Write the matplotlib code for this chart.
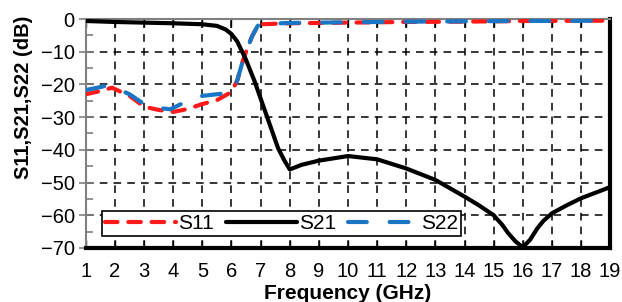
import matplotlib.pyplot as plt
from matplotlib.ticker import MultipleLocator

plt.rcParams['font.family'] = ['Liberation Sans', 'DejaVu Sans']

# S21 (black solid)
f21 = [1, 2, 3, 4, 5, 5.5, 5.8, 6, 6.2, 6.5, 6.8, 7, 7.3, 7.6, 7.8, 8, 8.4,
       9, 10, 11, 12, 13, 14, 14.5, 15, 15.3, 15.5, 15.75, 16, 16.25, 16.5,
       16.7, 17, 17.5, 18, 19]
s21 = [-0.6, -0.9, -1.1, -1.3, -1.6, -2.1, -3.2, -4.6, -6.9, -12.5, -19.2,
       -24.3, -31.9, -39.5, -43, -46, -44.6, -43.3, -41.9, -42.9, -45.7,
       -49.2, -54.3, -57, -60, -63, -65.5, -68, -69.8, -67.5, -64, -61.8,
       -59.4, -57, -54.8, -51.4]

# S11 (red dashed)
f11 = [1, 1.5, 1.9, 2.5, 3, 3.5, 4, 4.5, 5, 5.5, 6, 6.2, 6.4, 6.5, 6.7, 6.9,
       7, 8, 10, 12, 14, 16, 19]
s11 = [-23, -22, -21, -23.5, -26.8, -27.8, -28.4, -27.5, -26, -24.8, -22.3,
       -18.7, -12.5, -10, -5.4, -2.1, -1.6, -1.3, -1.1, -0.9, -0.8, -0.6, -0.5]

# S22 (blue long dash)
f22 = [1, 1.4, 1.8, 2.5, 3, 3.5, 3.9, 4.5, 5, 5.5, 6, 6.2, 6.4, 6.5, 6.7, 6.9,
       7, 8, 10, 12, 14, 16, 19]
s22 = [-21.7, -21, -20.2, -23, -26, -27.2, -27.6, -25, -23.5, -23, -22.5,
       -18.7, -12.5, -10, -5.4, -2.1, -1.5, -1.2, -1.0, -0.8, -0.7, -0.6, -0.5]

fig = plt.figure(figsize=(6.22, 3.02), dpi=100)
ax = fig.add_axes([0.138, 0.179, 0.843, 0.758])

ax.plot(f11, s11, color='#ff1a1a', lw=3, dashes=(3, 2.6),
        dash_capstyle='round', label='S11', zorder=3)
ax.plot(f21, s21, color='black', lw=3, solid_capstyle='round',
        solid_joinstyle='round', label='S21', zorder=4)
ax.plot(f22, s22, color='#1a75c4', lw=3, dashes=(4.5, 5.5),
        dash_capstyle='round', label='S22', zorder=3)

ax.set_xlim(1, 19)
ax.set_ylim(-70, 0)
ax.set_xticks(range(1, 20))
ax.set_yticks(range(-70, 1, 10))
ax.yaxis.set_minor_locator(MultipleLocator(5))

ax.grid(True, which='major', color='black', linestyle=(0, (5, 4)), lw=1.1)

ax.tick_params(axis='x', which='major', direction='in', length=6, width=1,
               color='black', labelsize=14.5, pad=10, top=True)
ax.tick_params(axis='y', which='major', direction='inout', length=10,
               width=1.2, color='#808080', labelsize=14.5, pad=3)
ax.tick_params(axis='y', which='minor', direction='in', length=5,
               width=1.2, color='#808080')

for s in ['left', 'top']:
    ax.spines[s].set_color('#808080')
    ax.spines[s].set_linewidth(1.5)
for s in ['bottom', 'right']:
    ax.spines[s].set_color('black')
    ax.spines[s].set_linewidth(3)

ax.set_xlabel('Frequency (GHz)', fontsize=15, fontweight='bold', labelpad=2)
ax.set_ylabel('S11,S21,S22 (dB)', fontsize=14.5, fontweight='bold')
ax.yaxis.set_label_coords(-0.101, 0.66)

leg = ax.legend(loc='lower left', bbox_to_anchor=(0.03, 0.05), ncol=3,
                fontsize=15, handlelength=3.4, columnspacing=0.6,
                handletextpad=0.1, borderpad=0.15, fancybox=False,
                framealpha=1, edgecolor='black', borderaxespad=0)
leg.get_frame().set_linewidth(1.2)

fig.savefig('out.png', dpi=100)
